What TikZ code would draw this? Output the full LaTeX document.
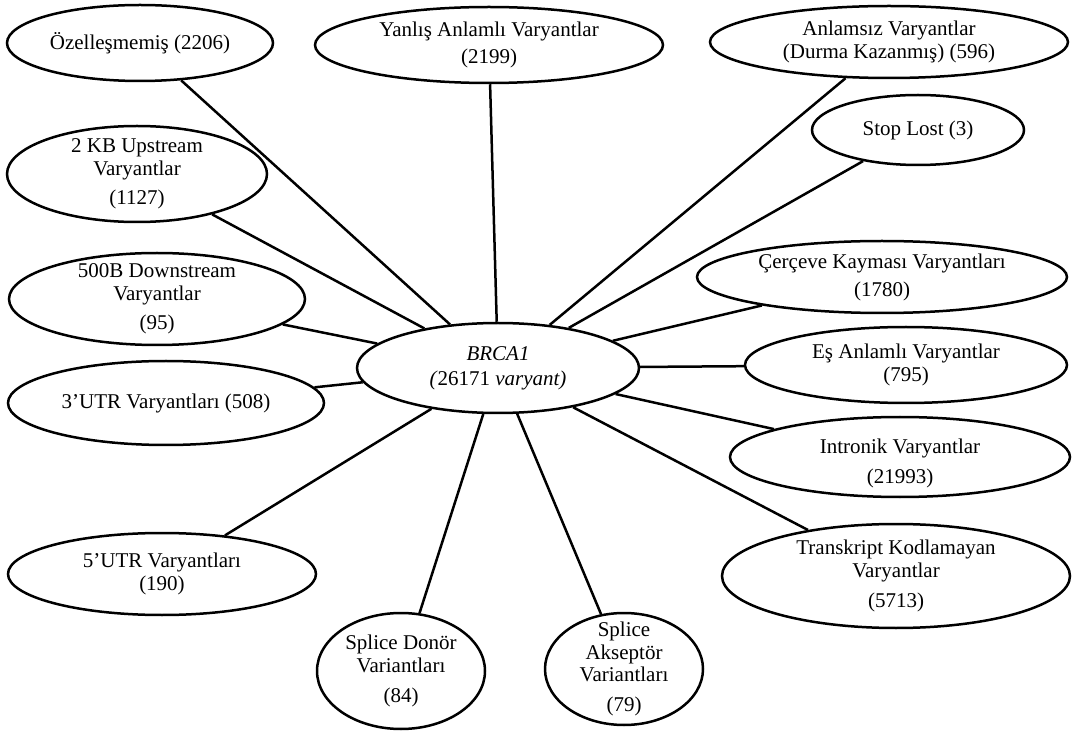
\documentclass[tikz,border=0pt]{standalone}
\usepackage{fontspec}
\setmainfont{Liberation Serif}
\usetikzlibrary{shapes.geometric}
\tikzset{
  oval/.style={ellipse, draw=black, line width=2.5pt, fill=white, inner xsep=0pt, inner ysep=-12pt,
    align=center, font=\fontsize{21}{22.5}\selectfont},
  link/.style={draw=black, line width=2.5pt}
}
\begin{document}
\begin{tikzpicture}[x=1pt,y=-1pt]
\useasboundingbox[fill=white] (0,0) rectangle (1072,735);
\node[oval, minimum width=282pt, minimum height=90pt] (br) at (498,368)
  {\textit{BRCA1}\\[2.5pt]\textit{(}26171 \textit{varyant)}};
\node[oval, minimum width=266pt, minimum height=76pt] (oz) at (140,43) {Özelleşmemiş (2206)};
\node[oval, minimum width=260pt, minimum height=96pt] (kb) at (137,174) {2 KB Upstream\\Varyantlar\\[6.5pt](1127)};
\node[oval, minimum width=296pt, minimum height=92pt] (ds) at (157,299) {500B Downstream\\Varyantlar\\[6.5pt](95)};
\node[oval, minimum width=316pt, minimum height=84pt] (u3) at (166,403) {3’UTR Varyantları (508)};
\node[oval, minimum width=308pt, minimum height=82pt] (u5) at (162,574) {5’UTR Varyantları\\(190)};
\node[oval, minimum width=168pt, minimum height=116pt] (sd) at (401,671) {Splice Donör\\Variantları\\[7.5pt](84)};
\node[oval, minimum width=158pt, minimum height=112pt] (sa) at (624,669) {Splice\\Akseptör\\Variantları\\[7.5pt](79)};
\node[oval, minimum width=348pt, minimum height=104pt] (tk) at (896,576) {Transkript Kodlamayan\\Varyantlar\\[7.5pt](5713)};
\node[oval, minimum width=340pt, minimum height=80pt] (in) at (900,457) {\rule{0pt}{27pt}Intronik Varyantlar\\[7.5pt](21993)};
\node[oval, minimum width=322pt, minimum height=76pt] (es) at (906,365) {Eş Anlamlı Varyantlar\\(795)};
\node[oval, minimum width=370pt, minimum height=72pt] (cc) at (882,277) {Çerçeve Kayması Varyantları\\[5.5pt](1780)};
\node[oval, minimum width=212pt, minimum height=70pt] (sl) at (918,130) {Stop Lost (3)};
\node[oval, minimum width=358pt, minimum height=72pt] (an) at (889,42) {Anlamsız Varyantlar\\(Durma Kazanmış) (596)};
\node[oval, minimum width=348pt, minimum height=76pt] (ya) at (489,45) {Yanlış Anlamlı Varyantlar\\[4.5pt](2199)};
\foreach \n in {oz,kb,ds,u3,u5,sd,sa,tk,in,es,cc,sl,an,ya}
  \draw[link] (br) -- (\n);
\end{tikzpicture}
\end{document}
